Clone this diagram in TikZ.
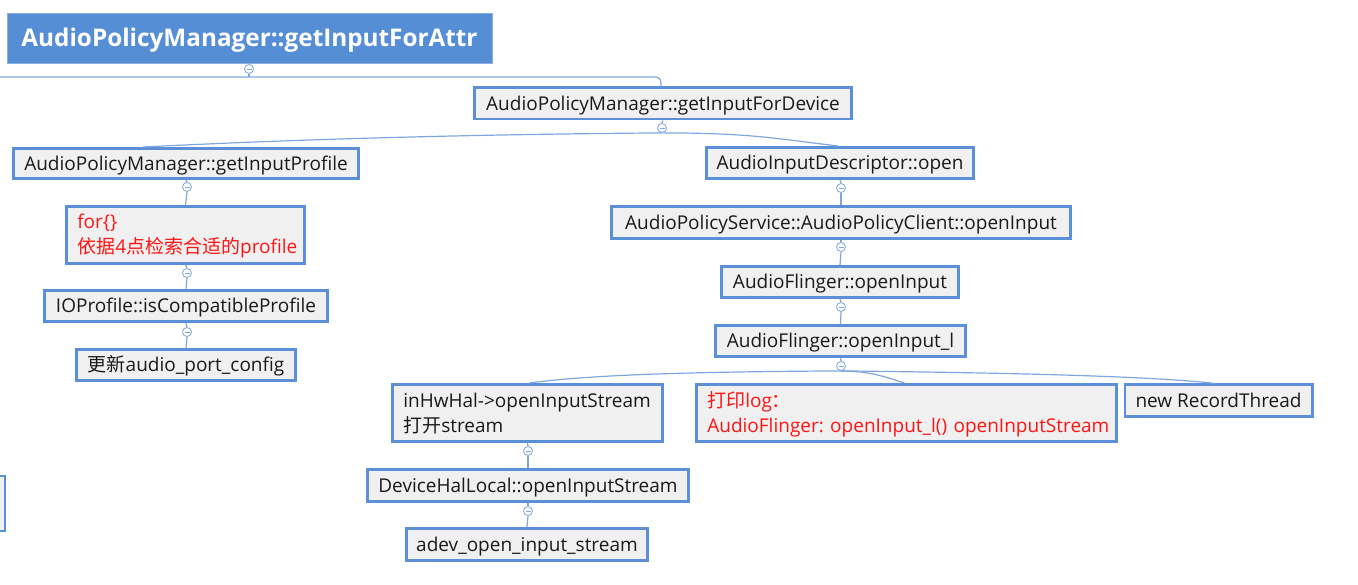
\documentclass[tikz,border=0pt]{standalone}
\usepackage{fontspec}
\setmainfont{Open Sans}
\newfontfamily\cjk{Noto Sans CJK SC}
\frenchspacing
\definecolor{bordblue}{RGB}{91,143,216}
\definecolor{rootblue}{RGB}{86,142,214}
\definecolor{boxfill}{RGB}{240,240,240}
\definecolor{lineblue}{RGB}{127,166,222}
\definecolor{txt}{RGB}{26,26,26}
\definecolor{redtxt}{RGB}{255,20,20}
\begin{document}
\begin{tikzpicture}[x=1pt,y=-1pt,
  box/.style={draw=bordblue, line width=2.6pt, fill=boxfill, inner sep=0pt, text=txt,
    font=\fontsize{19}{25}\selectfont\frenchspacing, text height=13.6pt, text depth=0pt},
  mbox/.style={box, inner xsep=11pt, align=left, text height=13.6pt, text depth=25.6pt},
  rootbox/.style={fill=rootblue, draw=rootblue!70!white, line width=0.8pt, inner sep=0pt, text=white,
    font=\fontsize{24.3}{28}\selectfont\bfseries, text height=17.4pt, text depth=0pt},
  coll/.style={circle, draw=lineblue, fill=white, line width=0.8pt, minimum size=9pt, inner sep=0pt,
    path picture={\draw[lineblue, line width=0.8pt] ([xshift=2pt]path picture bounding box.west) -- ([xshift=-2pt]path picture bounding box.east);}},
  conn/.style={draw=lineblue, line width=1.2pt}
]
\useasboundingbox (0,0) rectangle (1358,585);
\clip (0,0) rectangle (1358,585);

% nodes
\node[rootbox, minimum width=485pt, minimum height=50pt] (root) at (249.5,38) {AudioPolicyManager::getInputForAttr};
\node[box, minimum width=377.4pt, minimum height=31.4pt] (fordev) at (663,103.5) {AudioPolicyManager::getInputForDevice};
\node[box, minimum width=345.4pt, minimum height=30.4pt] (gp) at (186,163.5) {AudioPolicyManager::getInputProfile};
\node[mbox, minimum width=238.4pt, minimum height=57.4pt, text width=216.4pt, text=redtxt] (forloop) at (185.5,235) {for\{\}\\{\cjk 依据}4{\cjk 点检索合适的}profile};
\node[box, minimum width=283.4pt, minimum height=31.4pt] (ioprof) at (186,306) {IOProfile::isCompatibleProfile};
\node[box, minimum width=219.4pt, minimum height=31.4pt] (update) at (186,365) {{\cjk 更新}audio\_port\_config};
\node[box, minimum width=267.4pt, minimum height=31.4pt] (aido) at (840,163) {AudioInputDescriptor::open};
\node[box, minimum width=459.4pt, minimum height=32.4pt] (aps) at (841,222.5) {AudioPolicyService::AudioPolicyClient::openInput};
\node[box, minimum width=237.4pt, minimum height=31.4pt] (afoi) at (840,282) {AudioFlinger::openInput};
\node[box, minimum width=250.4pt, minimum height=31.4pt] (afoil) at (840.5,341) {AudioFlinger::openInput\_l};
\node[mbox, minimum width=270.4pt, minimum height=57.4pt, text width=248.4pt] (inhw) at (527.5,413) {inHwHal->openInputStream\\{\cjk 打开}stream};
\node[mbox, minimum width=420.4pt, minimum height=57.4pt, text width=398.4pt, text=redtxt] (plog) at (906.5,413) {{\cjk 打印}log{\cjk ：}\\\mbox{AudioFlinger: openInput\_l() openInputStream}};
\node[box, minimum width=187.4pt, minimum height=31.4pt] (nrt) at (1218.5,400.5) {new RecordThread};
\node[box, minimum width=321.4pt, minimum height=32.4pt] (dhl) at (528,485.5) {DeviceHalLocal::openInputStream};
\node[box, minimum width=241.4pt, minimum height=32.4pt] (adev) at (527,544.5) {adev\_open\_input\_stream};
\node[box, minimum width=50pt, minimum height=55pt] (lost) at (-20,503.5) {};

% collapse circles
\node[coll] (c0) at (249,69) {};
\node[coll] (c1) at (662,128) {};
\node[coll] (c2) at (187,187) {};
\node[coll] (c3) at (187,273) {};
\node[coll] (c4) at (187,332) {};
\node[coll] (c5) at (841,188) {};
\node[coll] (c6) at (841,247) {};
\node[coll] (c7) at (841,307) {};
\node[coll] (c8) at (841,366) {};
\node[coll] (c9) at (528,451) {};
\node[coll] (c10) at (528,511) {};

\coordinate (j0) at (249,77);
\coordinate (leftend) at (0,77);

% connectors
\draw[conn] (root.south) -- (c0.north);
\draw[conn] (c0.south) -- (j0);
\draw[conn, rounded corners=5pt] (leftend) -| ([xshift=-2pt]fordev.north);
\draw[conn] (fordev.south) -- (c1.north);
\draw[conn] (c1.south) .. controls +(-250,2) and +(100,-5) .. ([xshift=-43pt]gp.north);
\draw[conn] (c1.south) .. controls +(90,0) and +(-60,-7) .. ([xshift=-2pt]aido.north);
\draw[conn] (gp.south) -- (c2.north);
\draw[conn] (c2.south) -- (forloop.north);
\draw[conn] (forloop.south) -- (c3.north);
\draw[conn] (c3.south) -- (ioprof.north);
\draw[conn] (ioprof.south) -- (c4.north);
\draw[conn] (c4.south) -- (update.north);
\draw[conn] (aido.south) -- (c5.north);
\draw[conn] (c5.south) -- (aps.north);
\draw[conn] (aps.south) -- (c6.north);
\draw[conn] (c6.south) -- (afoi.north);
\draw[conn] (afoi.south) -- (c7.north);
\draw[conn] (c7.south) -- (afoil.north);
\draw[conn] (afoil.south) -- (c8.north);
\draw[conn] (c8.south) .. controls +(-160,1) and +(60,-8) .. ([xshift=2pt]inhw.north);
\draw[conn] (c8.south) .. controls +(30,1) and +(-25,-8) .. ([xshift=-2pt]plog.north);
\draw[conn] (c8.south) .. controls +(180,2) and +(-60,-7) .. ([xshift=-3pt]nrt.north);
\draw[conn] (inhw.south) -- (c9.north);
\draw[conn] (c9.south) -- (dhl.north);
\draw[conn] (dhl.south) -- (c10.north);
\draw[conn] (c10.south) -- (adev.north);
\end{tikzpicture}
\end{document}
